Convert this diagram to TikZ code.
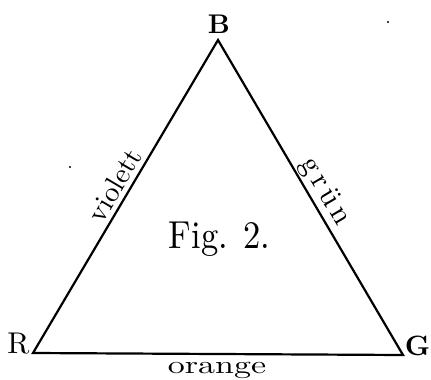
\documentclass[tikz,border=0pt]{standalone}
\usepackage{fontspec}
\begin{document}
\begin{tikzpicture}[x=1pt,y=-1pt,
  edge/.style={line width=2.2pt,line join=miter},
  vlabel/.style={inner sep=0pt,anchor=base,font=\fontsize{10}{12}\selectfont},
  side/.style={inner sep=0pt,anchor=center,font=\fontsize{10}{12}\selectfont},
  speck/.style={fill=black,draw=none}]
\useasboundingbox (0,0) rectangle (431,380);
\coordinate (R) at (33,353);
\coordinate (B) at (218,40);
\coordinate (G) at (403,355);
\draw[edge] (R) -- (B) -- (G) -- cycle;
\node[vlabel] (lB) at (219,33) {\scalebox{2.7}{\bfseries B}};
\node[vlabel] (lR) at (18.5,353) {\scalebox{3.0}{R}};
\node[vlabel] (lG) at (417.5,355) {\scalebox{2.8}{\bfseries G}};
\node[vlabel] (lo) at (217,373) {\scalebox{3.4}[2.5]{orange}};
\node[vlabel] (fig) at (219.5,248) {\scalebox{3.45}[3.9]{Fig. 2.}};
\node[side,rotate=59.4] (lv) at (114.5,185) {\scalebox{2.85}{violett}};
\node[side,rotate=-59.4] (lg) at (325,192) {\scalebox{3.0}{g\kern1.5pt r\kern1.5pt ü\kern1.5pt n}};
\fill[speck] (388,22) circle (1.1);
\fill[speck] (70,167) circle (1.1);
\end{tikzpicture}
\end{document}
